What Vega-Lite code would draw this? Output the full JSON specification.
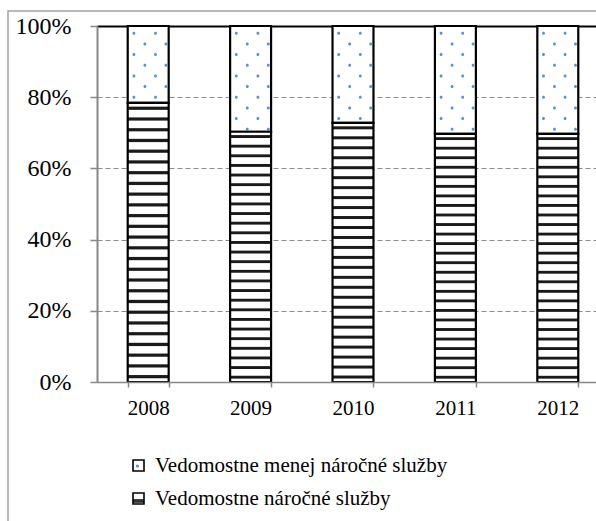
{
  "$schema": "https://vega.github.io/schema/vega-lite/v6.json",
  "width": 612,
  "height": 512,
  "autosize": {"type": "none"},
  "padding": {"left": 8, "top": 11, "right": 0, "bottom": 0},
  "background": "white",
  "config": {
    "view": {"stroke": "#a3a3a3", "strokeWidth": 1.5},
    "font": "Liberation Serif",
    "legend": {"padding": 0, "labelFont": "Liberation Serif", "labelColor": "black"}
  },
  "data": {
    "values": [
      {"year": "2008", "series": "Vedomostne náročné služby", "value": 0.784},
      {"year": "2008", "series": "Vedomostne menej náročné služby", "value": 0.216},
      {"year": "2009", "series": "Vedomostne náročné služby", "value": 0.703},
      {"year": "2009", "series": "Vedomostne menej náročné služby", "value": 0.297},
      {"year": "2010", "series": "Vedomostne náročné služby", "value": 0.728},
      {"year": "2010", "series": "Vedomostne menej náročné služby", "value": 0.272},
      {"year": "2011", "series": "Vedomostne náročné služby", "value": 0.697},
      {"year": "2011", "series": "Vedomostne menej náročné služby", "value": 0.303},
      {"year": "2012", "series": "Vedomostne náročné služby", "value": 0.697},
      {"year": "2012", "series": "Vedomostne menej náročné služby", "value": 0.303}
    ]
  },
  "encoding": {
    "x": {
      "field": "year",
      "type": "ordinal",
      "scale": {"range": [89, 601], "paddingInner": 0.6, "paddingOuter": 0.3},
      "axis": {
        "title": null,
        "orient": "bottom",
        "offset": -141,
        "labelAngle": 0,
        "domainColor": "#878787",
        "domainWidth": 1.5,
        "tickColor": "#878787",
        "tickWidth": 1.5,
        "tickSize": 5,
        "tickBand": "extent",
        "labelFont": "Liberation Serif",
        "labelFontSize": 21,
        "labelColor": "black",
        "labelPadding": 10,
        "grid": false,
        "zindex": 1
      }
    }
  },
  "layer": [
    {
      "transform": [
        {"stack": "value", "groupby": ["year"], "sort": [{"field": "series", "order": "descending"}], "as": ["v0", "v1"]},
        {"filter": "datum.series === 'Vedomostne menej náročné služby'"}
      ],
      "mark": {"type": "bar", "fill": "#ffffff", "stroke": "black", "strokeWidth": 2.2},
      "encoding": {
        "y": {
          "field": "v0",
          "type": "quantitative",
          "scale": {"domain": [0, 1], "range": [371, 15], "nice": false, "zero": false},
          "axis": {
            "title": null,
            "values": [0, 0.2, 0.4, 0.6, 0.8, 1],
            "format": ".0%",
            "offset": -89,
            "domainColor": "#878787",
            "domainWidth": 2,
            "tickColor": "#878787",
            "tickWidth": 1.5,
            "tickSize": 7,
            "labelPadding": 19,
            "labelFont": "Liberation Serif",
            "labelFontSize": 24,
            "labelColor": "black",
            "grid": true,
            "gridColor": {"condition": {"test": "datum.value === 1", "value": "black"}, "value": "#8c8c8c"},
            "gridDash": {"condition": {"test": "datum.value === 1", "value": []}, "value": [5, 3]},
            "gridWidth": {"condition": {"test": "datum.value === 1", "value": 2}, "value": 1.2},
            "zindex": 0
          }
        },
        "y2": {"field": "v1"},
        "opacity": {
          "field": "series",
          "type": "nominal",
          "scale": {"domain": ["Vedomostne menej náročné služby", "Vedomostne náročné služby"], "range": [1, 1]},
          "legend": {
            "orient": "none",
            "legendX": 120,
            "legendY": 444,
            "title": null,
            "symbolType": "square",
            "symbolSize": 121,
            "symbolStrokeColor": "black",
            "symbolStrokeWidth": 1.5,
            "labelFont": "Liberation Serif",
            "labelFontSize": 21,
            "labelColor": "black",
            "labelOffset": 6,
            "labelLimit": 0,
            "rowPadding": 11,
            "encoding": {
              "symbols": {
                "fill": {"value": {"expr": "datum.value === 'Vedomostne náročné služby' ? {gradient: 'linear', x1: 0, y1: 0, x2: 0, y2: 1, stops: [{offset: 0, color: '#ffffff'}, {offset: 0.5, color: '#ffffff'}, {offset: 0.6, color: '#333333'}, {offset: 0.85, color: '#333333'}, {offset: 0.95, color: '#ffffff'}, {offset: 1, color: '#ffffff'}]} : {gradient: 'radial', x1: 0.4, y1: 0.55, r1: 0, x2: 0.4, y2: 0.55, r2: 0.5, stops: [{offset: 0, color: '#5b8fd6'}, {offset: 0.2, color: '#5b8fd6'}, {offset: 0.35, color: '#ffffff'}, {offset: 1, color: '#ffffff'}]}"}},
                "stroke": {"value": "black"},
                "strokeWidth": {"value": 1.6}
              }
            }
          }
        }
      }
    },
    {
      "transform": [
        {"filter": "datum.series === 'Vedomostne menej náročné služby'"}
      ],
      "mark": {
        "type": "point",
        "shape": "M-15.8,7.3a1.5,1.5 0 1,0 3,0a1.5,1.5 0 1,0 -3,0ZM5.8,7.3a1.5,1.5 0 1,0 3,0a1.5,1.5 0 1,0 -3,0ZM-4.8,18a1.5,1.5 0 1,0 3,0a1.5,1.5 0 1,0 -3,0ZM16.2,18a1.5,1.5 0 1,0 3,0a1.5,1.5 0 1,0 -3,0ZM-15.8,28.6a1.5,1.5 0 1,0 3,0a1.5,1.5 0 1,0 -3,0ZM5.8,28.6a1.5,1.5 0 1,0 3,0a1.5,1.5 0 1,0 -3,0ZM-4.8,39.3a1.5,1.5 0 1,0 3,0a1.5,1.5 0 1,0 -3,0ZM16.2,39.3a1.5,1.5 0 1,0 3,0a1.5,1.5 0 1,0 -3,0ZM-15.8,50a1.5,1.5 0 1,0 3,0a1.5,1.5 0 1,0 -3,0ZM5.8,50a1.5,1.5 0 1,0 3,0a1.5,1.5 0 1,0 -3,0ZM-4.8,60.6a1.5,1.5 0 1,0 3,0a1.5,1.5 0 1,0 -3,0ZM16.2,60.6a1.5,1.5 0 1,0 3,0a1.5,1.5 0 1,0 -3,0ZM-15.8,71.3a1.5,1.5 0 1,0 3,0a1.5,1.5 0 1,0 -3,0ZM5.8,71.3a1.5,1.5 0 1,0 3,0a1.5,1.5 0 1,0 -3,0ZM-4.8,82a1.5,1.5 0 1,0 3,0a1.5,1.5 0 1,0 -3,0ZM16.2,82a1.5,1.5 0 1,0 3,0a1.5,1.5 0 1,0 -3,0ZM-15.8,92.6a1.5,1.5 0 1,0 3,0a1.5,1.5 0 1,0 -3,0ZM5.8,92.6a1.5,1.5 0 1,0 3,0a1.5,1.5 0 1,0 -3,0ZM-4.8,103.3a1.5,1.5 0 1,0 3,0a1.5,1.5 0 1,0 -3,0ZM16.2,103.3a1.5,1.5 0 1,0 3,0a1.5,1.5 0 1,0 -3,0Z",
        "size": 4,
        "filled": true,
        "fill": "#5b8fd6",
        "opacity": 1,
        "strokeWidth": 0
      },
      "encoding": {
        "y": {
          "datum": 1,
          "type": "quantitative",
          "axis": {
            "title": null,
            "values": [0, 0.2, 0.4, 0.6, 0.8, 1],
            "format": ".0%",
            "offset": -89,
            "domainColor": "#878787",
            "domainWidth": 2,
            "tickColor": "#878787",
            "tickWidth": 1.5,
            "tickSize": 7,
            "labelPadding": 19,
            "labelFont": "Liberation Serif",
            "labelFontSize": 24,
            "labelColor": "black",
            "grid": true,
            "gridColor": {"condition": {"test": "datum.value === 1", "value": "black"}, "value": "#8c8c8c"},
            "gridDash": {"condition": {"test": "datum.value === 1", "value": []}, "value": [5, 3]},
            "gridWidth": {"condition": {"test": "datum.value === 1", "value": 2}, "value": 1.2},
            "zindex": 0
          }
        }
      }
    },
    {
      "transform": [
        {"stack": "value", "groupby": ["year"], "sort": [{"field": "series", "order": "descending"}], "as": ["v0", "v1"]},
        {"filter": "datum.series === 'Vedomostne náročné služby'"}
      ],
      "mark": {
        "type": "bar",
        "stroke": "black",
        "strokeWidth": 2.2,
        "fill": {
          "gradient": "linear",
          "x1": 0, "y1": 0, "x2": 0, "y2": 1,
          "stops": [
            {"offset": 0, "color": "#ffffff"},
            {"offset": 0.0115, "color": "#ffffff"}, {"offset": 0.0154, "color": "#1a1a1a"}, {"offset": 0.0231, "color": "#1a1a1a"}, {"offset": 0.0269, "color": "#ffffff"},
            {"offset": 0.0500, "color": "#ffffff"}, {"offset": 0.0538, "color": "#1a1a1a"}, {"offset": 0.0615, "color": "#1a1a1a"}, {"offset": 0.0654, "color": "#ffffff"},
            {"offset": 0.0885, "color": "#ffffff"}, {"offset": 0.0923, "color": "#1a1a1a"}, {"offset": 0.1000, "color": "#1a1a1a"}, {"offset": 0.1038, "color": "#ffffff"},
            {"offset": 0.1269, "color": "#ffffff"}, {"offset": 0.1308, "color": "#1a1a1a"}, {"offset": 0.1385, "color": "#1a1a1a"}, {"offset": 0.1423, "color": "#ffffff"},
            {"offset": 0.1654, "color": "#ffffff"}, {"offset": 0.1692, "color": "#1a1a1a"}, {"offset": 0.1769, "color": "#1a1a1a"}, {"offset": 0.1808, "color": "#ffffff"},
            {"offset": 0.2038, "color": "#ffffff"}, {"offset": 0.2077, "color": "#1a1a1a"}, {"offset": 0.2154, "color": "#1a1a1a"}, {"offset": 0.2192, "color": "#ffffff"},
            {"offset": 0.2423, "color": "#ffffff"}, {"offset": 0.2462, "color": "#1a1a1a"}, {"offset": 0.2538, "color": "#1a1a1a"}, {"offset": 0.2577, "color": "#ffffff"},
            {"offset": 0.2808, "color": "#ffffff"}, {"offset": 0.2846, "color": "#1a1a1a"}, {"offset": 0.2923, "color": "#1a1a1a"}, {"offset": 0.2962, "color": "#ffffff"},
            {"offset": 0.3192, "color": "#ffffff"}, {"offset": 0.3231, "color": "#1a1a1a"}, {"offset": 0.3308, "color": "#1a1a1a"}, {"offset": 0.3346, "color": "#ffffff"},
            {"offset": 0.3577, "color": "#ffffff"}, {"offset": 0.3615, "color": "#1a1a1a"}, {"offset": 0.3692, "color": "#1a1a1a"}, {"offset": 0.3731, "color": "#ffffff"},
            {"offset": 0.3962, "color": "#ffffff"}, {"offset": 0.4000, "color": "#1a1a1a"}, {"offset": 0.4077, "color": "#1a1a1a"}, {"offset": 0.4115, "color": "#ffffff"},
            {"offset": 0.4346, "color": "#ffffff"}, {"offset": 0.4385, "color": "#1a1a1a"}, {"offset": 0.4462, "color": "#1a1a1a"}, {"offset": 0.4500, "color": "#ffffff"},
            {"offset": 0.4731, "color": "#ffffff"}, {"offset": 0.4769, "color": "#1a1a1a"}, {"offset": 0.4846, "color": "#1a1a1a"}, {"offset": 0.4885, "color": "#ffffff"},
            {"offset": 0.5115, "color": "#ffffff"}, {"offset": 0.5154, "color": "#1a1a1a"}, {"offset": 0.5231, "color": "#1a1a1a"}, {"offset": 0.5269, "color": "#ffffff"},
            {"offset": 0.5500, "color": "#ffffff"}, {"offset": 0.5538, "color": "#1a1a1a"}, {"offset": 0.5615, "color": "#1a1a1a"}, {"offset": 0.5654, "color": "#ffffff"},
            {"offset": 0.5885, "color": "#ffffff"}, {"offset": 0.5923, "color": "#1a1a1a"}, {"offset": 0.6000, "color": "#1a1a1a"}, {"offset": 0.6038, "color": "#ffffff"},
            {"offset": 0.6269, "color": "#ffffff"}, {"offset": 0.6308, "color": "#1a1a1a"}, {"offset": 0.6385, "color": "#1a1a1a"}, {"offset": 0.6423, "color": "#ffffff"},
            {"offset": 0.6654, "color": "#ffffff"}, {"offset": 0.6692, "color": "#1a1a1a"}, {"offset": 0.6769, "color": "#1a1a1a"}, {"offset": 0.6808, "color": "#ffffff"},
            {"offset": 0.7038, "color": "#ffffff"}, {"offset": 0.7077, "color": "#1a1a1a"}, {"offset": 0.7154, "color": "#1a1a1a"}, {"offset": 0.7192, "color": "#ffffff"},
            {"offset": 0.7423, "color": "#ffffff"}, {"offset": 0.7462, "color": "#1a1a1a"}, {"offset": 0.7538, "color": "#1a1a1a"}, {"offset": 0.7577, "color": "#ffffff"},
            {"offset": 0.7808, "color": "#ffffff"}, {"offset": 0.7846, "color": "#1a1a1a"}, {"offset": 0.7923, "color": "#1a1a1a"}, {"offset": 0.7962, "color": "#ffffff"},
            {"offset": 0.8192, "color": "#ffffff"}, {"offset": 0.8231, "color": "#1a1a1a"}, {"offset": 0.8308, "color": "#1a1a1a"}, {"offset": 0.8346, "color": "#ffffff"},
            {"offset": 0.8577, "color": "#ffffff"}, {"offset": 0.8615, "color": "#1a1a1a"}, {"offset": 0.8692, "color": "#1a1a1a"}, {"offset": 0.8731, "color": "#ffffff"},
            {"offset": 0.8962, "color": "#ffffff"}, {"offset": 0.9000, "color": "#1a1a1a"}, {"offset": 0.9077, "color": "#1a1a1a"}, {"offset": 0.9115, "color": "#ffffff"},
            {"offset": 0.9346, "color": "#ffffff"}, {"offset": 0.9385, "color": "#1a1a1a"}, {"offset": 0.9462, "color": "#1a1a1a"}, {"offset": 0.9500, "color": "#ffffff"},
            {"offset": 0.9731, "color": "#ffffff"}, {"offset": 0.9769, "color": "#1a1a1a"}, {"offset": 0.9846, "color": "#1a1a1a"}, {"offset": 0.9885, "color": "#ffffff"},
            {"offset": 1, "color": "#ffffff"}
          ]
        }
      },
      "encoding": {
        "y": {
          "field": "v0",
          "type": "quantitative",
          "axis": {
            "title": null,
            "values": [0, 0.2, 0.4, 0.6, 0.8, 1],
            "format": ".0%",
            "offset": -89,
            "domainColor": "#878787",
            "domainWidth": 2,
            "tickColor": "#878787",
            "tickWidth": 1.5,
            "tickSize": 7,
            "labelPadding": 19,
            "labelFont": "Liberation Serif",
            "labelFontSize": 24,
            "labelColor": "black",
            "grid": true,
            "gridColor": {"condition": {"test": "datum.value === 1", "value": "black"}, "value": "#8c8c8c"},
            "gridDash": {"condition": {"test": "datum.value === 1", "value": []}, "value": [5, 3]},
            "gridWidth": {"condition": {"test": "datum.value === 1", "value": 2}, "value": 1.2},
            "zindex": 0
          }
        },
        "y2": {"field": "v1"}
      }
    }
  ]
}
